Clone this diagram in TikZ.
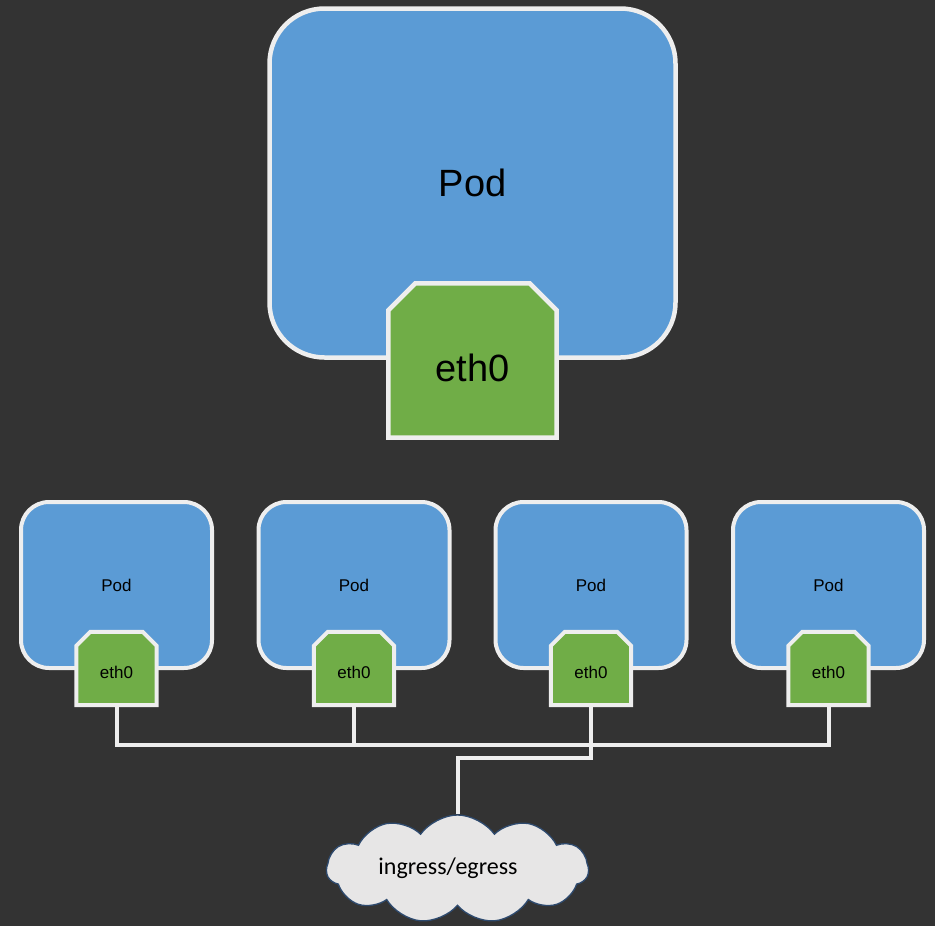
\documentclass[tikz,border=0pt]{standalone}
\usepackage{fontspec}
\setmainfont{Liberation Sans}
\newfontfamily\carlito{Carlito}
\usetikzlibrary{shapes.symbols}
\definecolor{bgc}{HTML}{333333}
\definecolor{podblue}{HTML}{5B9BD5}
\definecolor{ethgreen}{HTML}{70AD47}
\definecolor{edgec}{HTML}{EEEEEE}
\definecolor{cloudfill}{HTML}{E7E6E6}
\definecolor{cloudline}{HTML}{2E4A6E}
\newcommand{\ethbox}[3]{% node name, chamfer, line width
  \path[draw=edgec, fill=ethgreen, line width=#3, line join=miter]
    ([yshift=-#2]#1.north west) -- ([xshift=#2]#1.north west) --
    ([xshift=-#2]#1.north east) -- ([yshift=-#2]#1.north east) --
    (#1.south east) -- (#1.south west) -- cycle;}
\begin{document}
\begin{tikzpicture}[x=1pt,y=-1pt,
  bigpod/.style={draw=edgec, fill=podblue, line width=4.5pt, rounded corners=55pt,
    minimum width=406pt, minimum height=349pt, inner sep=0pt, font=\fontsize{38}{40}\selectfont},
  smallpod/.style={draw=edgec, fill=podblue, line width=4pt, rounded corners=28pt,
    minimum width=191pt, minimum height=166pt, inner sep=0pt, font=\fontsize{17}{19}\selectfont},
  bigeth/.style={rectangle, minimum width=168pt, minimum height=154pt, inner sep=0pt},
  smalleth/.style={rectangle, minimum width=80pt, minimum height=73pt, inner sep=0pt},
  bigethtext/.style={font=\fontsize{38}{40}\selectfont, inner sep=0pt},
  smallethtext/.style={font=\fontsize{17}{19}\selectfont, inner sep=0pt},
  wire/.style={draw=edgec, line width=4pt},
  cloudnode/.style={cloud, cloud puffs=11, cloud puff arc=110, aspect=2.4,
    draw=cloudline, fill=cloudfill, line width=1.3pt, minimum width=262pt, minimum height=108pt, inner sep=0pt},
  cloudtext/.style={font=\carlito\fontsize{24}{26}\selectfont, text=black}
]
\fill[bgc] (0,0) rectangle (935,926);
\useasboundingbox (0,0) rectangle (935,926);

% big pod
\node[bigpod] (bp) at (472.5,183) {Pod};
\node[bigeth] (be) at (472.5,360.5) {};
\ethbox{be}{27pt}{4.5pt}
\node[bigethtext] (bet) at (472.5,368) {eth0};

% small pods
\foreach \i/\x in {1/116.5,2/354,3/591,4/828.5}{
  \node[smallpod] (p\i) at (\x,585) {Pod};
  \node[smalleth] (e\i) at (\x,668.5) {};
  \ethbox{e\i}{14pt}{4pt}
  \node[smallethtext] (et\i) at (\x,672) {eth0};
}

% cloud
\node[cloudnode] (cl) at (457.5,869) {};
\node[cloudtext] (cltxt) at (448,868) {ingress/egress};

% wires
\coordinate (bl) at (116.5,745);
\coordinate (br) at (828.5,745);
\coordinate (drop) at (591,758);
\draw[wire] (e1.south) -- (bl) -- (br) -- (e4.south);
\draw[wire] (e2.south) -- (e2.south |- bl);
\draw[wire] (e3.south) -- (drop) -| (cl.north);
\end{tikzpicture}
\end{document}
